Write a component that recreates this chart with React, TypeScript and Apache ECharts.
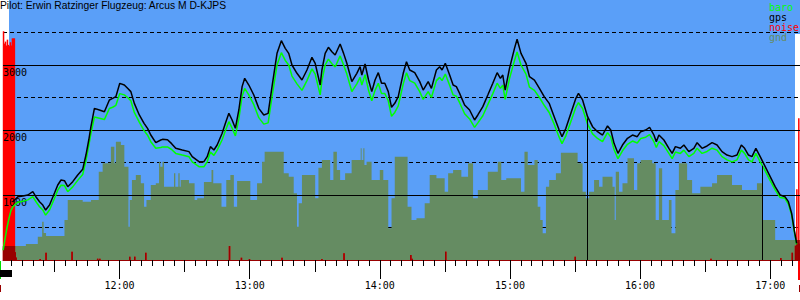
import React, { useEffect, useRef } from "react";
import * as echarts from "echarts";

// ---- data (times in minutes after midnight) ----
const gpsTimes = [670.8,673.1,675.4,677.7,680.0,681.4,683.1,684.6,685.9,687.7,690.0,691.5,693.0,694.6,696.1,698.4,700.7,703.0,704.5,705.8,706.8,708.4,710.7,713.0,715.3,716.8,718.3,720.1,722.2,723.7,725.2,726.8,729.1,731.3,732.9,734.4,736.7,739.0,739.8,742.1,744.0,745.9,748.9,752.0,753.5,756.6,758.9,760.4,761.9,763.5,765.0,767.3,768.8,770.4,771.9,773.4,775.0,776.5,777.7,779.6,781.9,784.2,786.5,788.5,790.3,792.6,794.6,796.4,798.0,799.5,801.8,804.1,806.4,808.7,810.2,812.5,813.3,814.8,816.3,817.9,819.4,821.7,823.3,824.8,827.1,829.4,830.9,831.7,833.2,834.8,836.3,837.8,839.3,840.8,842.3,843.9,845.4,846.9,848.5,850.8,852.3,853.8,856.1,858.4,860.0,862.3,863.8,866.1,867.6,868.7,870.2,872.2,873.8,875.3,876.8,879.1,881.4,883.7,885.2,887.5,889.8,892.1,894.1,895.6,896.7,897.8,899.8,902.1,903.3,905.1,907.4,909.0,911.3,913.6,915.8,918.1,920.4,922.7,924.0,925.8,928.1,930.4,931.6,933.5,935.8,938.1,940.4,942.7,945.0,946.5,948.0,949.8,951.9,954.2,956.5,958.7,960.3,962.6,964.4,966.4,967.5,968.7,971.0,973.3,974.8,976.3,978.6,980.2,982.5,984.8,986.3,988.6,990.9,993.2,995.5,997.8,1000.1,1002.4,1004.7,1006.7,1008.2,1010.0,1011.6,1013.4,1015.4,1017.7,1020.0,1022.3,1024.6,1026.8,1028.4,1029.9,1031.1,1032.2];
const gpsAlt = [897,974,985,1000,1051,974,897,846,769,846,1030,1154,1231,1220,1128,1205,1308,1395,1615,1846,2051,2333,2308,2282,2462,2487,2513,2718,2692,2641,2590,2410,2231,2103,2026,1923,1805,1846,1856,1850,1790,1718,1692,1667,1590,1513,1513,1590,1744,1692,1769,1949,2103,2256,2154,2026,2308,2667,2795,2692,2538,2333,2231,2256,2667,3179,3374,3256,3179,3000,2872,2769,2923,3118,3026,2692,2923,3179,3272,3205,3154,3323,3179,3026,2744,2872,2974,2846,3015,2769,2590,2769,2882,2718,2718,2590,2349,2410,2513,2872,3051,2923,2882,2744,2615,2744,2641,2923,2974,2923,3026,2846,2692,2667,2564,2385,2308,2154,2231,2359,2538,2718,2882,2795,2846,2615,2949,3256,3395,3179,3026,2821,2769,2641,2513,2410,2205,2000,1897,2026,2256,2487,2564,2462,2205,2051,1974,1923,2062,2000,1795,1641,1769,1872,1923,1897,1974,2000,2041,1923,1821,1923,1846,1718,1641,1744,1718,1769,1667,1718,1805,1718,1754,1805,1769,1667,1615,1590,1615,1769,1718,1615,1590,1718,1590,1436,1282,1128,1000,974,897,718,462,256];
const baroAlt = [820,890,905,925,975,900,820,770,690,770,950,1075,1150,1145,1050,1125,1225,1315,1530,1760,1950,2200,2180,2160,2330,2350,2380,2560,2540,2500,2450,2270,2120,1990,1920,1820,1720,1730,1740,1740,1700,1640,1615,1590,1510,1435,1435,1510,1660,1610,1690,1850,1990,2128,2030,1910,2170,2520,2640,2540,2390,2190,2090,2110,2510,3000,3190,3070,3000,2830,2710,2610,2760,2940,2860,2540,2760,3000,3090,3020,2970,3140,3000,2860,2590,2710,2810,2690,2850,2610,2450,2610,2720,2560,2560,2450,2210,2270,2370,2710,2880,2760,2720,2590,2470,2590,2500,2760,2810,2760,2860,2690,2540,2520,2420,2250,2170,2040,2110,2220,2390,2560,2720,2640,2690,2470,2790,3070,3200,3000,2860,2660,2610,2500,2380,2270,2090,1890,1790,1910,2130,2350,2420,2330,2090,1940,1870,1820,1960,1890,1700,1560,1680,1780,1830,1800,1870,1890,1930,1820,1730,1820,1760,1640,1560,1660,1640,1690,1590,1640,1720,1640,1670,1720,1690,1590,1540,1510,1540,1690,1640,1540,1510,1640,1510,1370,1220,1080,960,950,860,690,440,240];
const launchTimes = [666.3, 667.2, 668.1, 669.0, 669.9];
const launchBaro = [150, 330, 500, 640, 760];

const gndTimes = [666.25,670.8,676.8,682.3,684.3,685.0,686.1,694.6,696.1,703.0,706.8,710.4,712.2,716.0,717.6,718.3,720.6,722.2,724.1,724.7,725.7,727.5,729.8,731.3,732.4,734.4,736.7,738.2,738.8,739.8,740.5,745.1,745.7,747.1,747.7,748.2,752.0,754.6,755.8,758.9,762.4,763.2,767.0,769.2,771.1,772.7,774.2,780.3,783.4,785.7,786.9,795.7,798.0,800.3,801.8,802.6,804.1,810.2,811.7,813.3,817.1,818.6,820.2,821.7,824.0,827.0,831.2,831.6,832.4,832.9,833.9,836.2,840.0,841.6,843.9,845.4,846.9,852.8,854.6,856.9,860.7,863.0,866.1,869.9,871.5,873.8,877.6,880.7,883.0,885.2,889.8,894.4,896.0,898.3,905.1,906.7,908.2,911.3,912.8,914.0,915.1,916.6,918.1,921.2,923.5,931.2,933.5,935.0,936.5,938.8,941.1,942.7,947.3,948.3,948.8,950.3,951.9,954.2,957.2,958.7,960.3,965.6,967.2,968.7,970.2,973.3,974.5,976.3,977.9,981.7,984.0,987.8,993.2,995.5,1002.4,1007.0,1013.9,1016.2,1022.3,1033.75];
const gndAlt = [215,215,246,359,590,415,369,615,923,897,923,1359,1487,1744,1487,1821,1769,1436,513,923,1231,1308,1180,821,923,1154,1180,1513,1436,1513,1128,1333,1128,1333,1128,1231,1180,923,949,1200,1385,1180,821,1231,1308,821,1215,923,1180,1513,1667,1333,1282,1026,513,872,1308,949,1418,1538,1231,1667,1385,1231,1333,1538,1718,1538,1718,1462,1513,1231,1385,1231,487,949,1590,821,615,641,872,1308,1256,1051,1333,1385,1282,1487,949,1077,1359,1513,1231,1256,1051,1667,1462,1538,821,615,410,1128,1231,1333,1651,1487,1051,949,1051,1231,1128,1282,1128,615,1359,1051,1180,1564,1077,1487,1538,1487,615,1410,615,923,410,1077,1487,1231,1026,1128,1180,1308,1154,1077,1180,615,308,205,205];

const noiseTimes = [666.5,666.9,667.4,667.9,668.3,668.8,669.2,669.7,670.2,670.6,671.1,671.5,671.9,672.3,683.4,686.1,698.1,709.9,710.9,724.7,727.0,732.1,770.7,776.2,779.9,794.9,813.3,823.5,854.3,854.9,870.4,930.1,992.7,1024.9,1030.2,1031.7,1032.3,1032.8,1033.2,1033.6];
const noiseLevel = [3520,3330,3360,3300,3390,3310,3290,3350,3300,3410,3410,3410,120,40,15,112,128,20,20,51,51,112,215,35,15,35,15,103,77,20,128,51,20,30,112,220,1087,250,2180,250];

const markerTimes = [935.5, 1016.5];
const markerTop = [2180, 1450];

const hourTicks = [720, 780, 840, 900, 960, 1020];
const halfHourTicks = [690, 750, 810, 870, 930, 990];

const X_MIN = 666.25;
const X_MAX = 1033.75;

function gndAt(t: number): number {
  let v = 0;
  for (let i = 0; i < gndTimes.length; i++) {
    if (gndTimes[i] <= t) v = gndAlt[i];
    else break;
  }
  return v;
}

const fmt = (v: number) => {
  const h = Math.floor(v / 60);
  const m = Math.round(v - h * 60);
  return `${h}:${m < 10 ? "0" : ""}${m}`;
};

const MONO = "'DejaVu Sans Mono', monospace";

export default function App() {
  const ref = useRef<HTMLDivElement>(null);
  useEffect(() => {
    if (!ref.current) return;
    const chart = echarts.init(ref.current, undefined, { renderer: "svg" });
    const fiveTicks: number[] = [];
    for (let t = 670; t <= 1030; t += 5) fiveTicks.push(t);

    const xBase = {
      type: "value" as const,
      min: X_MIN,
      max: X_MAX,
      position: "bottom" as const,
      splitLine: { show: false },
    };

    chart.setOption({
      animation: false,
      backgroundColor: "#ffffff",
      grid: { left: 0, right: 0, top: 0, bottom: 40, containLabel: false },
      title: {
        text: "Pilot: Erwin Ratzinger Flugzeug: Arcus M D-KJPS",
        left: 0,
        top: 0,
        padding: 0,
        textStyle: { fontFamily: "'Liberation Sans', Arial, sans-serif", fontSize: 10.3, fontWeight: "normal", color: "#000" },
      },
      xAxis: [
        {
          ...xBase,
          axisLine: { show: true, onZero: false, lineStyle: { color: "#990000", width: 1 } },
          axisTick: { show: true, length: 19, lineStyle: { color: "#000" }, customValues: hourTicks },
          axisLabel: {
            show: true,
            customValues: hourTicks,
            formatter: (v: number) => fmt(v),
            margin: 20,
            fontFamily: MONO,
            fontSize: 10,
            color: "#000",
          },
        },
        {
          ...xBase,
          axisLine: { show: false, onZero: false },
          axisTick: { show: true, length: 12, lineStyle: { color: "#000" }, customValues: halfHourTicks },
          axisLabel: { show: false },
        },
        {
          ...xBase,
          axisLine: { show: false, onZero: false },
          axisTick: { show: true, length: 6, lineStyle: { color: "#000" }, customValues: fiveTicks },
          axisLabel: { show: false },
        },
      ],
      yAxis: [
        {
          type: "value",
          min: 0,
          max: 4000,
          interval: 1000,
          axisLine: { show: false },
          axisTick: { show: false },
          splitLine: { show: true, showMinLine: false, showMaxLine: false, lineStyle: { color: "#000", width: 1, type: "solid" } },
          axisLabel: {
            show: true,
            inside: true,
            margin: 0,
            verticalAlign: "top",
            padding: [2, 0, 0, 0],
            fontFamily: MONO,
            fontSize: 10,
            color: "#000",
            formatter: (v: number) => (v === 0 || v === 4000 ? "" : String(v)),
          },
          z: 3,
        },
        {
          type: "value",
          min: 0,
          max: 4000,
          interval: 500,
          axisLine: { show: false },
          axisTick: { show: false },
          axisLabel: { show: false },
          splitLine: { show: true, showMinLine: false, showMaxLine: false, lineStyle: { color: "#000", width: 1, type: [4, 3] } },
        },
      ],
      graphic: [
        { type: "rect", z: -10, silent: true, shape: { x: 9, y: 0, width: 786, height: 260 }, style: { fill: "#5a9ff8" } },
        { type: "rect", z: -10, silent: true, shape: { x: 795, y: 0, width: 5, height: 34 }, style: { fill: "#5a9ff8" } },
        { type: "rect", silent: true, shape: { x: 0, y: 261, width: 1, height: 18 }, style: { fill: "#00dd00" } },
        { type: "rect", silent: true, shape: { x: 0, y: 270, width: 12, height: 7 }, style: { fill: "#000" } },
        { type: "rect", silent: true, shape: { x: 0, y: 285, width: 1, height: 7 }, style: { fill: "#990000" } },
        { type: "rect", silent: true, shape: { x: 798, y: 261, width: 2, height: 19 }, style: { fill: "#ff0000" } },
        { type: "rect", silent: true, shape: { x: 799, y: 285, width: 1, height: 7 }, style: { fill: "#990000" } },
        { type: "text", left: 769, top: 2, style: { text: "baro", fill: "#00ff00", font: `10px ${MONO}` } },
        { type: "text", left: 769, top: 12, style: { text: "gps", fill: "#000000", font: `10px ${MONO}` } },
        { type: "text", left: 769, top: 22, style: { text: "noise", fill: "#ff0000", font: `10px ${MONO}` } },
        { type: "text", left: 769, top: 32, style: { text: "gnd", fill: "#658c62", font: `10px ${MONO}` } },
      ],
      series: [
        {
          name: "gnd",
          type: "line",
          step: "end",
          symbol: "none",
          z: 1,
          lineStyle: { width: 0 },
          areaStyle: { color: "#658c62", opacity: 1 },
          data: gndTimes.map((t, i) => [t, gndAlt[i]]),
        },
        {
          name: "noise",
          type: "bar",
          barWidth: 1.5,
          z: 2,
          itemStyle: { color: "#ff0000" },
          data: noiseTimes.map((t, i) => [t, noiseLevel[i]]),
        },
        {
          name: "noise-gnd",
          type: "bar",
          barWidth: 1.5,
          barGap: "-100%",
          z: 2,
          itemStyle: { color: "#990000" },
          data: noiseTimes.map((t, i) => [t, Math.min(noiseLevel[i], gndAt(t))]),
        },
        {
          name: "baro",
          type: "line",
          symbol: "none",
          z: 3,
          lineStyle: { color: "#00ff00", width: 1.5 },
          data: [
            ...launchTimes.map((t, i) => [t, launchBaro[i]]),
            ...gpsTimes.map((t, i) => [t, baroAlt[i]]),
          ],
        },
        {
          name: "gps",
          type: "line",
          symbol: "none",
          z: 4,
          lineStyle: { color: "#000000", width: 1.5 },
          data: gpsTimes.map((t, i) => [t, gpsAlt[i]]),
          markLine: {
            silent: true,
            symbol: "none",
            label: { show: false },
            lineStyle: { color: "#000", type: "solid", width: 1 },
            data: markerTimes.map((t, i) => [{ coord: [t, markerTop[i]] }, { coord: [t, 0] }]),
          },
        },
      ],
    });
    return () => chart.dispose();
  }, []);
  return <div ref={ref} style={{ position: "fixed", left: 0, top: 0, width: 800, height: 300 }} />;
}
